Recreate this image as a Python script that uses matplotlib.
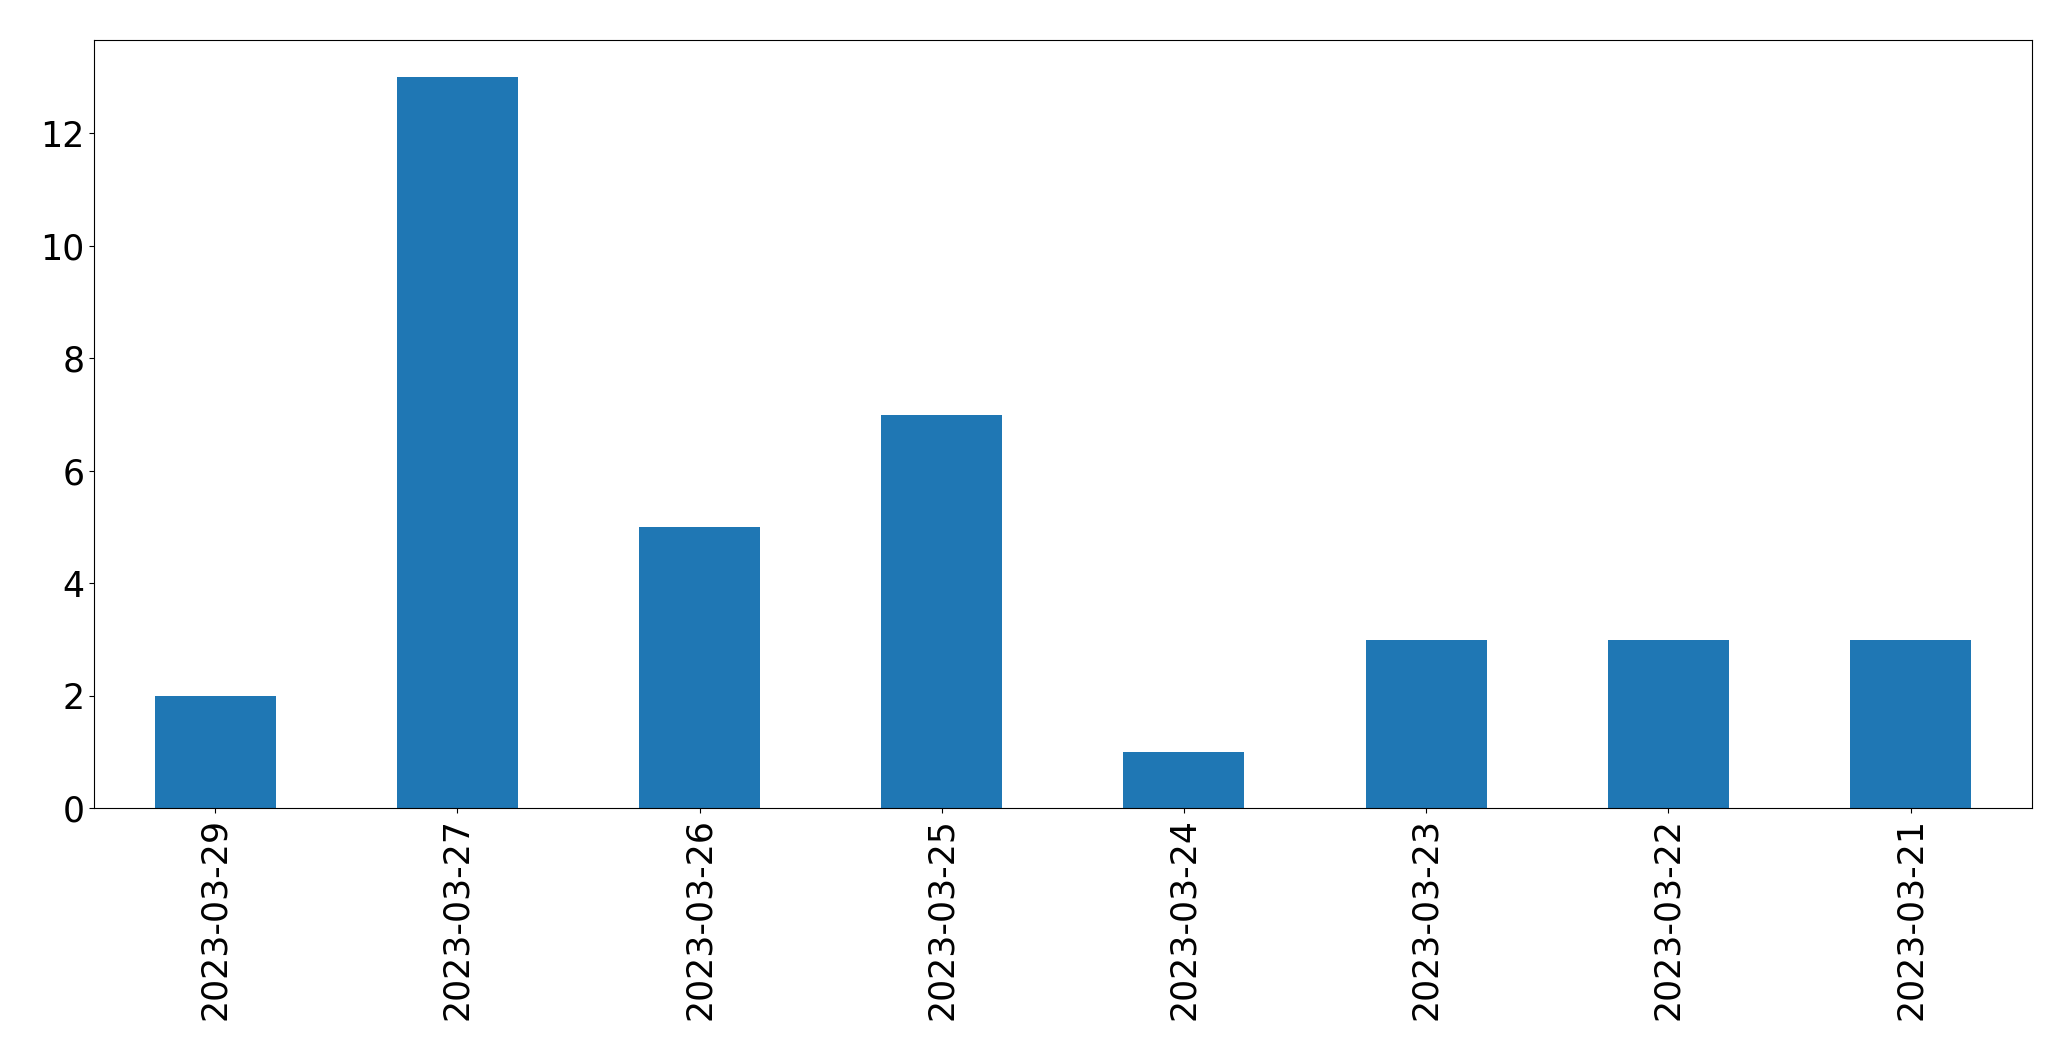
import matplotlib
matplotlib.use("Agg")
import matplotlib.pyplot as plt
import pandas as pd

dates = ["2023-03-29", "2023-03-27", "2023-03-26", "2023-03-25",
         "2023-03-24", "2023-03-23", "2023-03-22", "2023-03-21"]
counts = [2, 13, 5, 7, 1, 3, 3, 3]

s = pd.Series(counts, index=dates)

fig, ax = plt.subplots(figsize=(20.71, 10.61), dpi=100)
s.plot(kind="bar", ax=ax, color="#1f77b4", fontsize=25)
fig.subplots_adjust(left=0.0454, right=0.981, top=0.962, bottom=0.238)
fig.savefig("out.png", dpi=100)
